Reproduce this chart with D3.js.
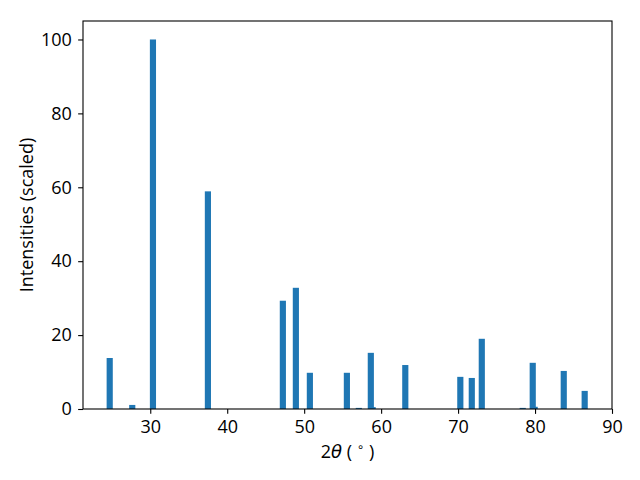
<!DOCTYPE html>
<html><head><meta charset="utf-8">
<script src="https://cdn.jsdelivr.net/npm/d3@7"></script>
<style>body{margin:0;background:#fff}svg{display:block}text{font-family:"Open Sans",sans-serif}</style>
</head><body>
<svg id="c" width="640" height="480"></svg>
<script>
const positions = [24.73, 27.66, 30.35, 37.49, 47.23, 48.92, 50.74, 55.55, 57.1, 58.66, 58.9, 63.14, 70.29, 71.78, 73.08, 78.4, 79.7, 79.95, 83.73, 86.45];
const intensities = [13.8, 1.1, 100, 58.9, 29.3, 32.8, 9.8, 9.8, 0.3, 15.2, 0.5, 11.9, 8.7, 8.4, 19.0, 0.3, 12.5, 0.6, 10.3, 4.9];
const xTicks = [30, 40, 50, 60, 70, 80, 90];
const yTicks = [0, 20, 40, 60, 80, 100];
const barWidth = 0.8;

const W = 640, H = 480;
const m = {l: 83, r: 28, t: 21, b: 71};
const FS = 18;
const svg = d3.select("#c");
const x = d3.scaleLinear().domain([21.26, 90]).range([m.l, W - m.r]);
const y = d3.scaleLinear().domain([0, 105]).range([H - m.b, m.t]);

const data = positions.map((p, i) => ({p, v: intensities[i]}));
svg.append("g").selectAll("rect").data(data).join("rect")
  .attr("x", d => x(d.p - barWidth / 2))
  .attr("width", d => x(d.p + barWidth / 2) - x(d.p - barWidth / 2))
  .attr("y", d => y(d.v))
  .attr("height", d => y(0) - y(d.v))
  .attr("fill", "#1f77b4");

const xa = svg.append("g").attr("transform", `translate(0,${H - m.b})`)
  .call(d3.axisBottom(x).tickValues(xTicks).tickSize(4.86).tickPadding(6.5).tickFormat(d3.format("d")));
const ya = svg.append("g").attr("transform", `translate(${m.l},0)`)
  .call(d3.axisLeft(y).tickValues(yTicks).tickSize(4.86).tickPadding(6.3).tickFormat(d3.format("d")));
[xa, ya].forEach(a => {
  a.select(".domain").remove();
  a.selectAll("text").attr("font-size", FS).attr("fill", "#000").attr("font-family", "Open Sans, sans-serif");
  a.selectAll("line").attr("stroke", "#000").attr("stroke-width", 1.1);
});

svg.append("rect").attr("x", m.l).attr("y", m.t)
  .attr("width", W - m.l - m.r).attr("height", H - m.t - m.b)
  .attr("fill", "none").attr("stroke", "#000").attr("stroke-width", 1.1);

const xl = svg.append("text").attr("x", (m.l + W - m.r) / 2).attr("y", 458)
  .attr("text-anchor", "middle").attr("font-size", FS).attr("fill", "#000");
xl.append("tspan").text("2");
xl.append("tspan").attr("font-style", "italic").attr("font-family", "DejaVu Sans, sans-serif").text("θ");
xl.append("tspan").text(" ( ");
xl.append("tspan").attr("font-size", 12).attr("dy", -7).attr("font-family", "DejaVu Sans, sans-serif").text("∘");
xl.append("tspan").attr("dy", 7).text(" )");

svg.append("text").attr("transform", `translate(32.7,${(m.t + H - m.b) / 2}) rotate(-90)`)
  .attr("text-anchor", "middle").attr("font-size", FS).attr("fill", "#000")
  .text("Intensities (scaled)");
</script>
</body></html>
